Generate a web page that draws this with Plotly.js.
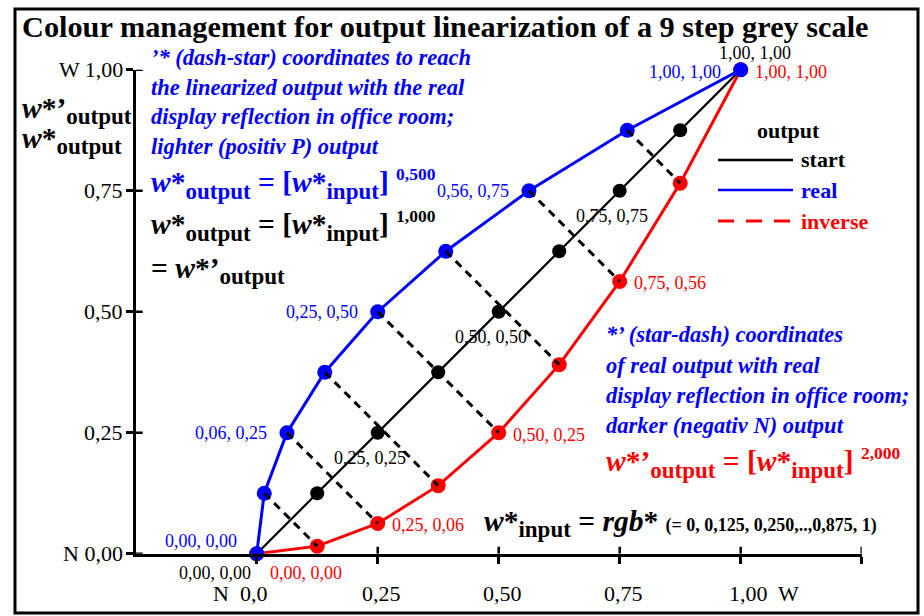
<!DOCTYPE html>
<html><head><meta charset="utf-8">
<script src="https://cdn.plot.ly/plotly-3.0.1.min.js"></script>
<style>html,body{margin:0;padding:0;background:#fff}#chart{width:924px;height:616px}</style>
</head><body><div id="chart"></div>
<script>
// ---- data ----
const inputSteps = [0, 0.125, 0.25, 0.375, 0.5, 0.625, 0.75, 0.875, 1];
const startOutput = [0, 0.125, 0.25, 0.375, 0.5, 0.625, 0.75, 0.875, 1];
const realX = [0, 0.0156, 0.0625, 0.1406, 0.25, 0.3906, 0.5625, 0.7656, 1];
const realY = [0, 0.125, 0.25, 0.375, 0.5, 0.625, 0.75, 0.875, 1];
const inverseX = [0, 0.125, 0.25, 0.375, 0.5, 0.625, 0.75, 0.875, 1];
const inverseY = [0, 0.0156, 0.0625, 0.1406, 0.25, 0.3906, 0.5625, 0.7656, 1];
const startLabels = ["0,00, 0,00", "", "0,25, 0,25", "", "0,50, 0,50", "", "0,75, 0,75", "", "1,00, 1,00"];
const realLabels = ["0,00, 0,00", "", "0,06, 0,25", "", "0,25, 0,50", "", "0,56, 0,75", "", "1,00, 1,00"];
const inverseLabels = ["0,00, 0,00", "", "0,25, 0,06", "", "0,50, 0,25", "", "0,75, 0,56", "", "1,00, 1,00"];
const xTickVals = [0, 0.25, 0.5, 0.75, 1, 1.25];
const xTickLabels = ["N  0,0", "0,25", "0,50", "0,75", "1,00  W", ""];
const yTickVals = [0, 0.25, 0.5, 0.75, 1];
const yTickLabels = ["N 0,00", "0,25", "0,50", "0,75", "W 1,00"];

const W = 924, H = 616, S = 484;
const FONT = "Liberation Serif, Times New Roman, serif";
const BLUE = "#0000ff", RED = "#ff0000";
const px = x => x / W;
const py = y => 1 - y / H;

// dashed connectors between real and inverse points
const dashX = [], dashY = [];
for (let i = 1; i < inputSteps.length - 1; i++) {
  dashX.push(realX[i], inverseX[i], null);
  dashY.push(realY[i], inverseY[i], null);
}

const traces = [
  {x: inputSteps, y: startOutput, mode: "lines+markers", line: {color: "#000", width: 2.2}, marker: {color: "#000", size: 14}, cliponaxis: false, showlegend: false},
  {x: inverseX, y: inverseY, mode: "lines+markers", line: {color: RED, width: 3}, marker: {color: RED, size: 15}, cliponaxis: false, showlegend: false},
  {x: realX, y: realY, mode: "lines+markers", line: {color: BLUE, width: 3}, marker: {color: BLUE, size: 15}, cliponaxis: false, showlegend: false},
  {x: dashX, y: dashY, mode: "lines", line: {color: "#000", width: 3, dash: "8px,6px"}, connectgaps: false, cliponaxis: false, showlegend: false}
];

const ann = [];
function txt(text, x, y, o) {
  ann.push(Object.assign({xref: "paper", yref: "paper", x: px(x), y: py(y), text: text, showarrow: false,
    xanchor: "left", yanchor: "middle", font: {family: FONT, size: 20, color: "#000"}}, o || {}));
}

// point labels
for (let i = 0; i < inputSteps.length; i++) {
  if (startLabels[i]) {
    let o = {xanchor: "center", xshift: -8, yshift: -25};
    if (i === 0) o = {xanchor: "right", xshift: -4, yshift: -19};
    if (i === inputSteps.length - 1) o = {xanchor: "center", xshift: 14, yshift: 17};
    ann.push(Object.assign({x: inputSteps[i], y: startOutput[i], xref: "x", yref: "y", text: startLabels[i], showarrow: false, yanchor: "middle", font: {family: FONT, size: 18, color: "#000"}}, o));
  }
  if (realLabels[i]) {
    let o = {xanchor: "right", xshift: -18, yshift: 0};
    if (i === 0) o = {xanchor: "right", xshift: -18, yshift: 13};
    if (i === inputSteps.length - 1) o = {xanchor: "right", xshift: -18, yshift: -2};
    ann.push(Object.assign({x: realX[i], y: realY[i], xref: "x", yref: "y", text: realLabels[i], showarrow: false, yanchor: "middle", font: {family: FONT, size: 18, color: BLUE}}, o));
  }
  if (inverseLabels[i]) {
    let o = {xanchor: "left", xshift: 12, yshift: -2};
    if (i === 0) o = {xanchor: "left", xshift: 11, yshift: -19};
    if (i === inputSteps.length - 1) o = {xanchor: "left", xshift: 12, yshift: -2};
    ann.push(Object.assign({x: inverseX[i], y: inverseY[i], xref: "x", yref: "y", text: inverseLabels[i], showarrow: false, yanchor: "middle", font: {family: FONT, size: 18, color: RED}}, o));
  }
}

// tick labels
yTickVals.forEach((v, i) => {
  ann.push({x: -0.25, y: v, xref: "x", yref: "y", text: yTickLabels[i], showarrow: false, xanchor: "right", yanchor: "middle", xshift: -11, font: {family: FONT, size: 22, color: "#000"}});
});
xTickVals.forEach((v, i) => {
  if (!xTickLabels[i]) return;
  let o = {xanchor: "center", xshift: 4};
  if (i === 0) o = {xanchor: "right", xshift: 12};
  if (i === 4) o = {xanchor: "left", xshift: -14};
  ann.push(Object.assign({x: v, y: 0, xref: "x", yref: "y", text: xTickLabels[i], showarrow: false, yanchor: "middle", yshift: -40, font: {family: FONT, size: 22, color: "#000"}}, o));
});

// text blocks
const leftBlue = ["’* (dash-star) coordinates to reach", "the linearized output with the real", "display reflection in office room;", "lighter (positiv P) output"];
const rightBlue = ["*’ (star-dash) coordinates", "of real output with real", "display reflection in office room;", "darker (negativ N) output"];
[57, 87, 116, 146].forEach((y, i) => txt("<b><i>" + leftBlue[i] + "</i></b>", 149, y, {font: {family: FONT, size: 22.5, color: BLUE}}));
[335, 365, 395, 425].forEach((y, i) => txt("<b><i>" + rightBlue[i] + "</i></b>", 604, y, {font: {family: FONT, size: 22.5, color: BLUE}}));

const sub = s => '<sub><span style="font-size:23px">' + s + '</span></sub>';
const sup = s => '<sup><span style="font-size:17.5px">' + s + '</span></sup>';
const F = 29.5;
txt("<b><i>w</i>*" + sub("output") + " = [<i>w</i>*" + sub("input") + "] " + sup("0,500") + "</b>", 149, 184, {font: {family: FONT, size: F, color: BLUE}});
txt("<b><i>w</i>*" + sub("output") + " = [<i>w</i>*" + sub("input") + "] " + sup("1,000") + "</b>", 149, 226, {font: {family: FONT, size: F, color: "#000"}});
txt("<b>= <i>w</i>*’" + sub("output") + "</b>", 149, 270, {font: {family: FONT, size: F, color: "#000"}});
txt("<b><i>w</i>*’" + sub("output") + " = [<i>w</i>*" + sub("input") + "] " + sup("2,000") + "</b>", 604, 463, {font: {family: FONT, size: F, color: RED}});
txt('<b><i>w</i>*' + sub("input") + ' = <i>rgb</i>* <span style="font-size:18px">(= 0, 0,125, 0,250,..,0,875, 1)</span></b>', 482, 523, {font: {family: FONT, size: F, color: "#000"}});
txt("<b><i>w</i>*’" + sub("output") + "</b>", 20, 110, {font: {family: FONT, size: F, color: "#000"}});
txt("<b><i>w</i>*" + sub("output") + "</b>", 20, 140, {font: {family: FONT, size: F, color: "#000"}});

// legend
txt("<b>output</b>", 788, 130, {xanchor: "center", font: {family: FONT, size: 22, color: "#000"}});
txt("<b>start</b>", 799, 160, {font: {family: FONT, size: 22, color: "#000"}});
txt("<b>real</b>", 799, 190, {font: {family: FONT, size: 22, color: BLUE}});
txt("<b>inverse</b>", 799, 221, {font: {family: FONT, size: 22, color: RED}});

const shapes = [
  {type: "rect", xref: "paper", yref: "paper", x0: px(15), x1: px(918), y0: py(613), y1: py(9), line: {color: "#000", width: 3}},
  {type: "line", xref: "paper", yref: "paper", x0: px(718), x1: px(793), y0: py(160), y1: py(160), line: {color: "#000", width: 2.5}},
  {type: "line", xref: "paper", yref: "paper", x0: px(718), x1: px(793), y0: py(190), y1: py(190), line: {color: BLUE, width: 2.5}},
  {type: "line", xref: "paper", yref: "paper", x0: px(718), x1: px(793), y0: py(221), y1: py(221), line: {color: RED, width: 3, dash: "16px,12px"}}
];
// inner halves of crossing ticks
xTickVals.forEach(v => shapes.push({type: "line", xref: "x", yref: "y", x0: v, x1: v, y0: 0, y1: 7 / S, line: {color: "#000", width: 2.5}, layer: "below"}));
yTickVals.forEach(v => shapes.push({type: "line", xref: "x", yref: "y", x0: -0.25, x1: -0.25 + 7 / S, y0: v, y1: v, line: {color: "#000", width: 2.5}, layer: "below"}));

const layout = {
  width: W, height: H,
  margin: {l: 0, r: 0, t: 0, b: 0},
  paper_bgcolor: "#fff", plot_bgcolor: "#fff",
  font: {family: FONT, color: "#000"},
  title: {text: "<b>Colour management for output linearization of a 9 step grey scale</b>", x: px(22), xanchor: "left", xref: "paper", y: py(26), yanchor: "middle", yref: "paper", font: {family: FONT, size: 30.3, color: "#000"}},
  xaxis: {domain: [px(135.7), px(861.7)], range: [-0.25, 1.25], showgrid: false, zeroline: false, showline: true, linecolor: "#000", linewidth: 3,
    ticks: "outside", ticklen: 7, tickwidth: 2.5, tickcolor: "#000", tickmode: "array", tickvals: xTickVals, showticklabels: false, fixedrange: true},
  yaxis: {domain: [1 - 553.7 / H, 1 - 69.7 / H], range: [0, 1], showgrid: false, zeroline: false, showline: true, linecolor: "#000", linewidth: 3,
    ticks: "outside", ticklen: 7, tickwidth: 2.5, tickcolor: "#000", tickmode: "array", tickvals: yTickVals, showticklabels: false, fixedrange: true},
  annotations: ann,
  shapes: shapes,
  showlegend: false
};
Plotly.newPlot("chart", traces, layout, {displayModeBar: false, staticPlot: true});
</script>
</body></html>
